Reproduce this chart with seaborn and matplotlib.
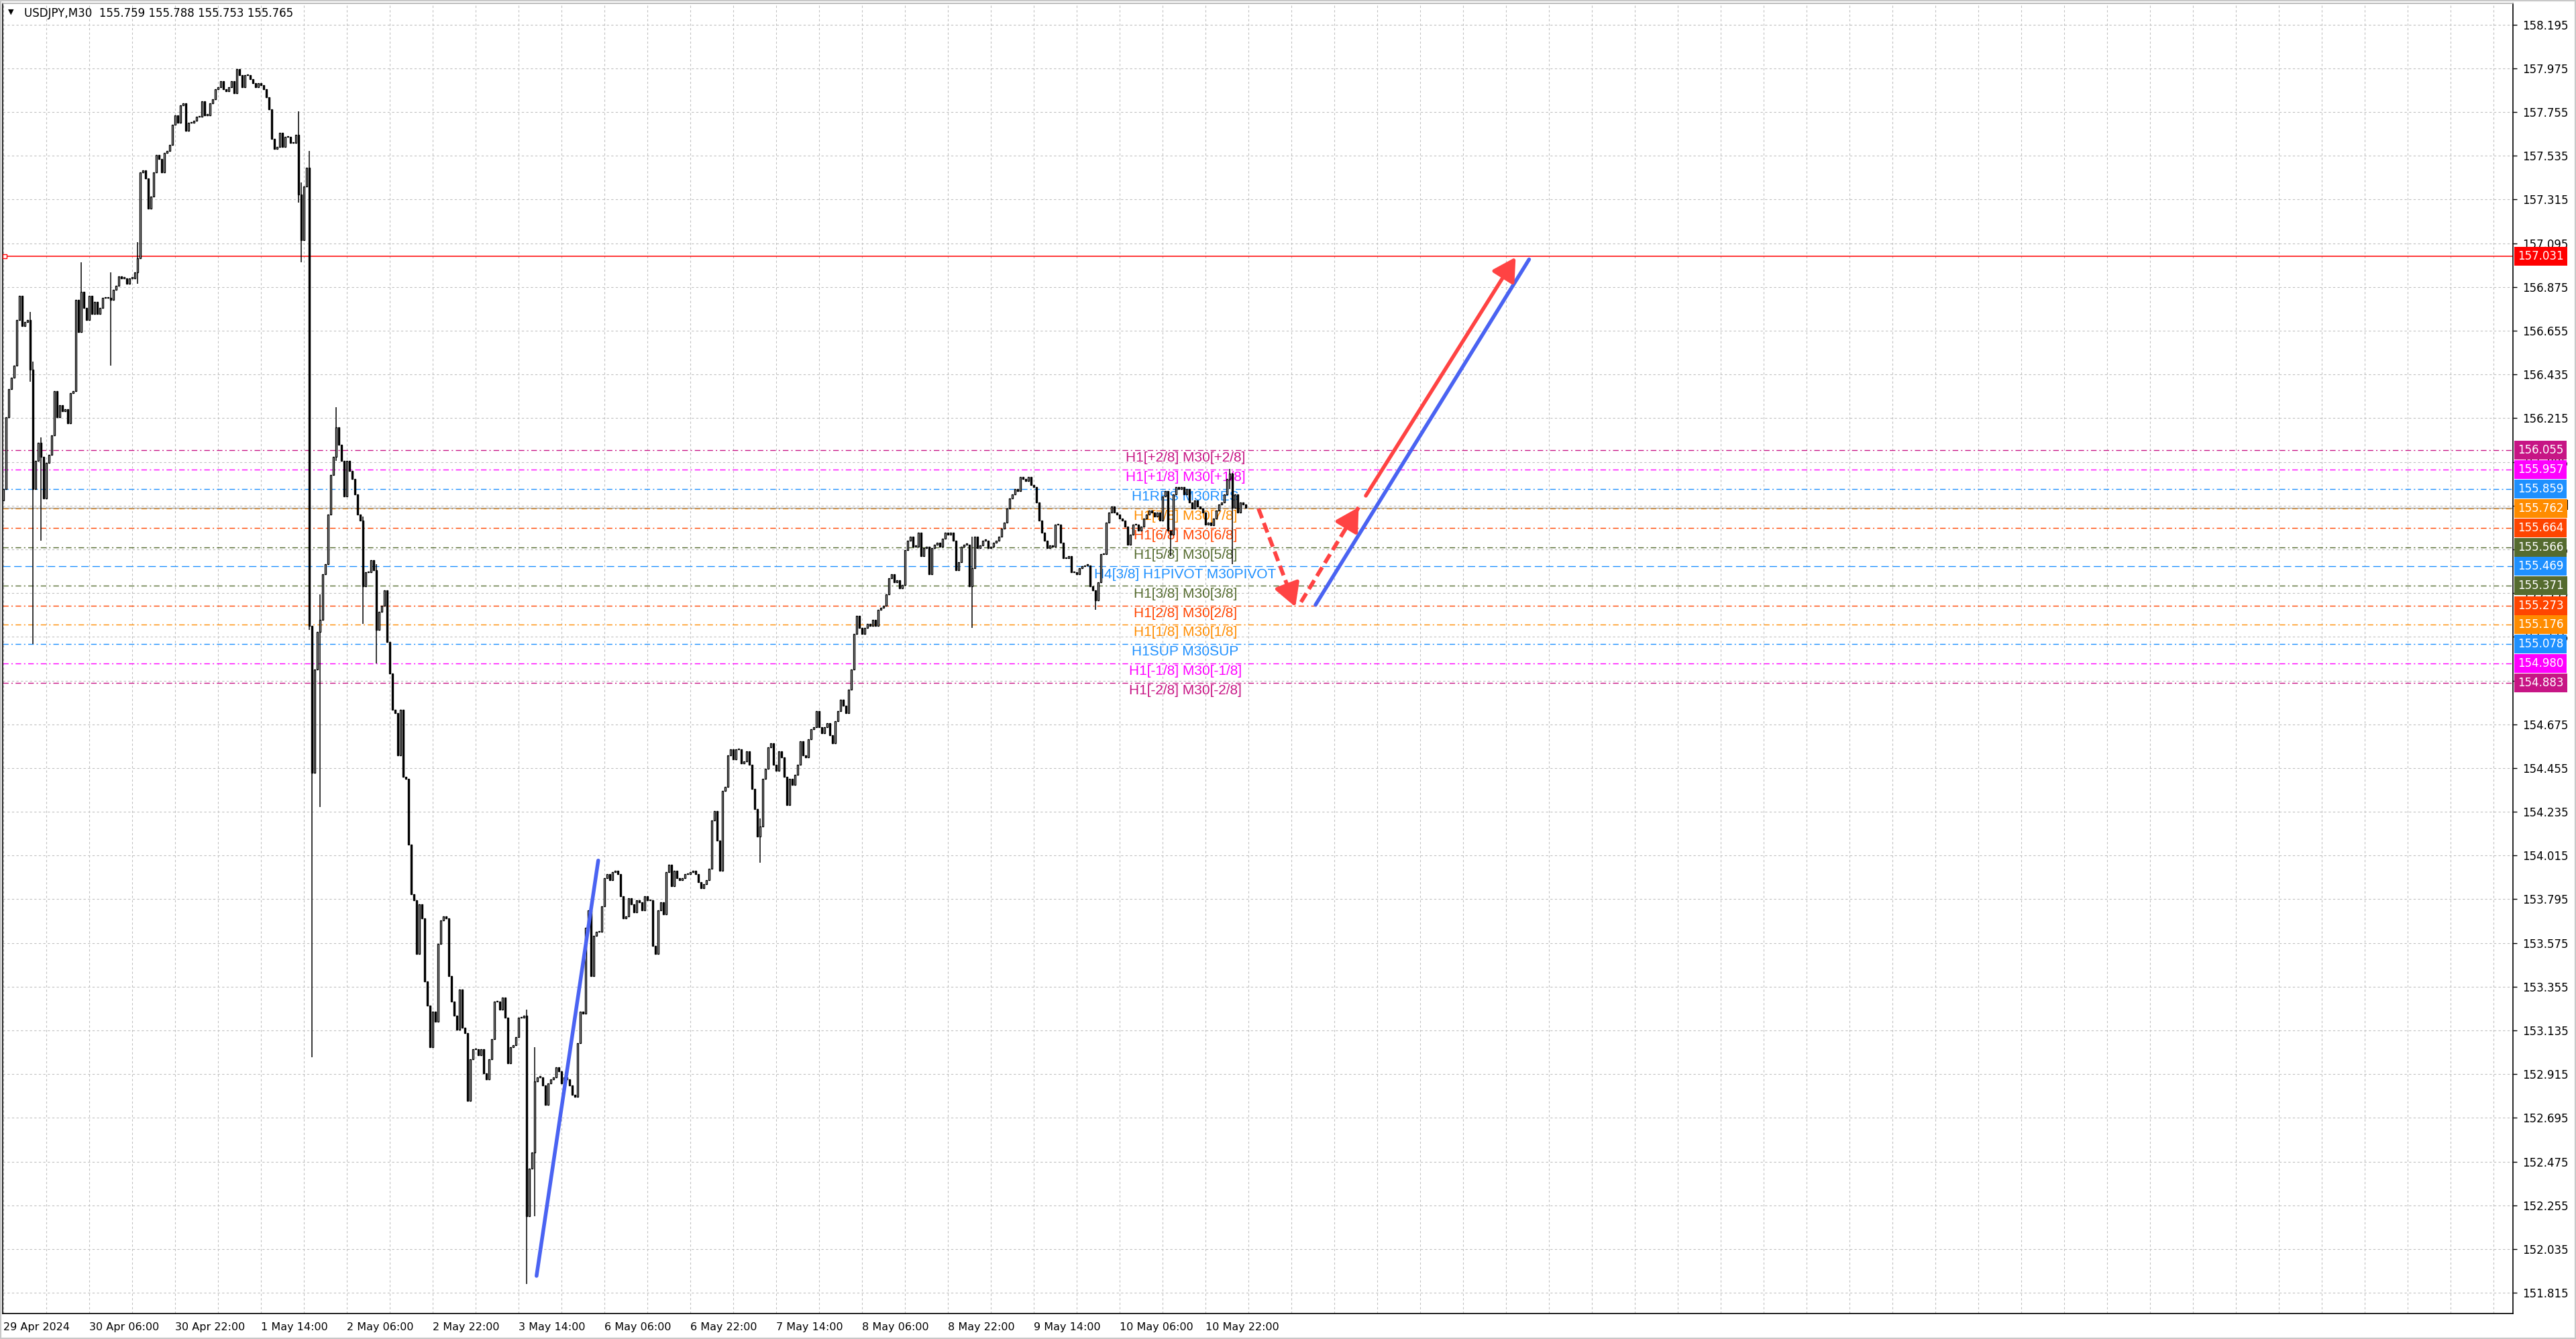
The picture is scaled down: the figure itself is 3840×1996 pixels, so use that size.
import numpy as np
import pandas as pd
import seaborn as sns
import matplotlib
matplotlib.use("Agg")
from matplotlib import pyplot as plt
from matplotlib.transforms import blended_transform_factory

# ---- data (USDJPY M30) ----
first_open = 155.80
closes = [
    155.86, 156.22, 156.36, 156.42, 156.48, 156.71, 156.83, 156.68, 156.70, 156.71,
    156.46, 155.86, 156.00, 156.09, 156.02, 155.81, 155.99, 156.03, 156.13, 156.35,
    156.22, 156.28, 156.25, 156.26, 156.19, 156.34, 156.35, 156.81, 156.65, 156.85,
    156.77, 156.71, 156.83, 156.74, 156.80, 156.74, 156.77, 156.82, 156.82, 156.82,
    156.81, 156.86, 156.88, 156.93, 156.92, 156.92, 156.89, 156.92, 156.92, 156.95,
    157.02, 157.45, 157.46, 157.42, 157.27, 157.33, 157.45, 157.54, 157.52, 157.45,
    157.55, 157.56, 157.59, 157.69, 157.74, 157.70, 157.79, 157.80, 157.66, 157.70,
    157.70, 157.71, 157.73, 157.73, 157.81, 157.74, 157.74, 157.80, 157.82, 157.87,
    157.88, 157.91, 157.87, 157.86, 157.88, 157.91, 157.85, 157.97, 157.94, 157.88,
    157.94, 157.94, 157.92, 157.90, 157.88, 157.90, 157.89, 157.87, 157.83, 157.77,
    157.62, 157.57, 157.58, 157.65, 157.58, 157.63, 157.63, 157.60, 157.60, 157.64,
    157.34, 157.11, 157.38, 157.475, 155.17, 154.43, 154.95, 155.14, 155.20, 155.43,
    155.48, 155.73, 155.93, 156.02, 156.17, 156.08, 156.00, 155.82, 156.00, 155.95,
    155.91, 155.83, 155.73, 155.70, 155.37, 155.44, 155.44, 155.50, 155.45, 155.15,
    155.24, 155.27, 155.35, 155.09, 154.93, 154.75, 154.73, 154.52, 154.75, 154.41,
    154.40, 154.07, 153.82, 153.79, 153.52, 153.77, 153.70, 153.38, 153.26, 153.05,
    153.23, 153.18, 153.57, 153.69, 153.71, 153.70, 153.41, 153.28, 153.21, 153.14,
    153.34, 153.15, 153.12, 152.78, 152.99, 153.04, 153.04, 153.01, 153.04, 152.92,
    152.89, 152.99, 153.09, 153.28, 153.28, 153.24, 153.30, 153.20, 152.97, 153.05,
    153.06, 153.10, 153.20, 153.20, 153.21, 152.20, 152.44, 152.52, 152.88, 152.90,
    152.90, 152.86, 152.76, 152.87, 152.89, 152.90, 152.95, 152.93, 152.87, 152.90,
    152.89, 152.86, 152.81, 152.80, 153.07, 153.23, 153.22, 153.65, 153.74, 153.41,
    153.61, 153.63, 153.63, 153.76, 153.90, 153.92, 153.89, 153.93, 153.94, 153.92,
    153.81, 153.70, 153.71, 153.80, 153.77, 153.73, 153.79, 153.78, 153.74, 153.81,
    153.79, 153.79, 153.56, 153.52, 153.74, 153.78, 153.72, 153.93, 153.97, 153.86,
    153.94, 153.90, 153.89, 153.90, 153.92, 153.92, 153.93, 153.94, 153.92, 153.88,
    153.85, 153.87, 153.89, 153.95, 154.19, 154.24, 154.09, 153.94, 154.34, 154.36,
    154.52, 154.55, 154.50, 154.55, 154.55, 154.48, 154.49, 154.54, 154.47, 154.35,
    154.25, 154.11, 154.16, 154.40, 154.45, 154.56, 154.58, 154.47, 154.44, 154.54,
    154.51, 154.41, 154.27, 154.40, 154.37, 154.42, 154.47, 154.59, 154.52, 154.51,
    154.60, 154.65, 154.66, 154.74, 154.66, 154.63, 154.66, 154.68, 154.62, 154.58,
    154.69, 154.74, 154.80, 154.77, 154.73, 154.85, 154.95, 155.13, 155.22, 155.16,
    155.13, 155.16, 155.18, 155.17, 155.20, 155.17, 155.25, 155.26, 155.27, 155.33,
    155.41, 155.43, 155.39, 155.40, 155.36, 155.375, 155.55, 155.60, 155.62, 155.57,
    155.57, 155.64, 155.52, 155.56, 155.57, 155.43, 155.56, 155.58, 155.59, 155.57,
    155.61, 155.64, 155.63, 155.64, 155.60, 155.45, 155.49, 155.57, 155.58, 155.58,
    155.37, 155.46, 155.62, 155.56, 155.575, 155.60, 155.60, 155.56, 155.57, 155.59,
    155.60, 155.62, 155.66, 155.69, 155.76, 155.81, 155.83, 155.86, 155.85, 155.92,
    155.91, 155.90, 155.92, 155.88, 155.87, 155.79, 155.70, 155.64, 155.60, 155.56,
    155.575, 155.57, 155.68, 155.68, 155.59, 155.51, 155.51, 155.52, 155.44, 155.44,
    155.43, 155.46, 155.47, 155.475, 155.475, 155.37, 155.35, 155.30, 155.39, 155.53,
    155.53, 155.69, 155.74, 155.77, 155.74, 155.73, 155.71, 155.70, 155.67, 155.58,
    155.63, 155.68, 155.68, 155.65, 155.67, 155.71, 155.73, 155.75, 155.74, 155.72,
    155.74, 155.70, 155.82, 155.85, 155.65, 155.63, 155.83, 155.87, 155.86, 155.87,
    155.83, 155.86, 155.79, 155.76, 155.80, 155.77, 155.76, 155.74, 155.68, 155.69,
    155.675, 155.71, 155.75, 155.78, 155.79, 155.83, 155.91, 155.935, 155.765, 155.83,
    155.74, 155.79, 155.78, 155.765,
]

# bars with visible wicks: index, high, low
wick_idx = [10, 11, 14, 29, 40, 50, 110, 111, 114, 115, 118, 124, 134, 139,
            195, 198, 282, 361, 407, 435, 457, 458]
wick_high = [156.75, 156.50, 156.12, 157.00, 156.95, 157.10, 157.76, 157.40, 157.56, 155.17,
             155.33, 156.27, 155.72, 155.48, 153.24, 153.05, 154.20, 155.62, 155.35, 155.65,
             155.96, 155.94]
wick_low = [156.40, 155.08, 155.60, 156.70, 156.48, 156.89, 157.30, 157.00, 155.15, 153.00,
            154.26, 156.00, 155.18, 154.98, 151.86, 152.20, 153.98, 155.16, 155.25, 155.52,
            155.86, 155.48]

# Murrey math levels
level_values = [156.055, 155.957, 155.859, 155.762, 155.664, 155.566, 155.469,
                155.371, 155.273, 155.176, 155.078, 154.980, 154.883]
level_labels = ["H1[+2/8] M30[+2/8]", "H1[+1/8] M30[+1/8]", "H1RES M30RES",
                "H1[7/8] M30[7/8]", "H1[6/8] M30[6/8]", "H1[5/8] M30[5/8]",
                "H4[3/8] H1PIVOT M30PIVOT", "H1[3/8] M30[3/8]", "H1[2/8] M30[2/8]",
                "H1[1/8] M30[1/8]", "H1SUP M30SUP", "H1[-1/8] M30[-1/8]",
                "H1[-2/8] M30[-2/8]"]
level_colors = ["#C71585", "#FF00FF", "#1E90FF", "#FF8C00", "#FF4500", "#556B2F",
                "#1E90FF", "#556B2F", "#FF4500", "#FF8C00", "#1E90FF", "#FF00FF",
                "#C71585"]
target_price = 157.031
bid_price = 155.765

# forecast / trend segments (bar index, price)
blue_x = [[198.7, 221.7], [489.0, 568.6]]
blue_y = [[151.90, 153.99], [155.276, 157.014]]
red_dash_x = [[467.75, 481.5], [483.6, 505.1]]
red_dash_y = [[155.76, 155.266], [155.29, 155.767]]
red_solid_x = [507.75, 563.6]
red_solid_y = [155.825, 157.025]

xtick_labels = ["29 Apr 2024", "30 Apr 06:00", "30 Apr 22:00", "1 May 14:00",
                "2 May 06:00", "2 May 22:00", "3 May 14:00", "6 May 06:00",
                "6 May 22:00", "7 May 14:00", "8 May 06:00", "8 May 22:00",
                "9 May 14:00", "10 May 06:00", "10 May 22:00"]
title_text = "USDJPY,M30  155.759 155.788 155.753 155.765"

# ---- build OHLC ----
df = pd.DataFrame({"close": closes})
df["open"] = [first_open] + closes[:-1]
df["high"] = df[["open", "close"]].max(axis=1)
df["low"] = df[["open", "close"]].min(axis=1)
for k, h, l in zip(wick_idx, wick_high, wick_low):
    df.loc[k, "high"] = max(df.loc[k, "high"], h)
    df.loc[k, "low"] = min(df.loc[k, "low"], l)
df["x"] = np.arange(len(df))

sns.set_theme(style="white")
plt.rcParams["font.family"] = ["DejaVu Sans"]

W, H, DPI = 3840, 1996, 100
fig = plt.figure(figsize=(W / DPI, H / DPI), dpi=DPI, facecolor="white")
ax = fig.add_axes([4 / W, (H - 1958) / H, (3746 - 4) / W, (1958 - 5) / H])
ax.set_facecolor("white")
ax.set_xlim(-0.25, 935.25)
ax.set_ylim(151.711, 158.302)

grid_kw = dict(color="#C0C0C0", lw=0.8, dashes=(3, 3), zorder=0.5)
yticks = np.round(151.815 + 0.22 * np.arange(30), 3)
for yt in yticks:
    ax.axhline(yt, **grid_kw)
for xv in range(0, 936, 16):
    ax.axvline(xv, **grid_kw)

# level lines and their captions
for val, lab, col in zip(level_values, level_labels, level_colors):
    dash = (8, 4) if "PIVOT" in lab else (6, 3, 1.5, 3)
    ax.axhline(val, color=col, lw=1.0, dashes=dash, zorder=1)
    ax.text(440.5, val - 0.039, lab, color=col, fontsize=15, family=["Liberation Sans"],
            ha="center", va="center", zorder=2)
ax.axhline(target_price, color="#FF0000", lw=1.1, zorder=1)
ax.axhline(bid_price, color="#A0A0A0", lw=1.0, zorder=1)

# candles
up = df["close"] >= df["open"]
body_bottom = df[["open", "close"]].min(axis=1)
body_h = (df["close"] - df["open"]).abs().clip(lower=0.004)
ax.vlines(df["x"], df["low"], df["high"], color="black", lw=1.1, zorder=2.9)
ax.bar(df["x"], body_h, bottom=body_bottom, width=0.7,
       color=np.where(up, "white", "black"), edgecolor="black", linewidth=1.0, zorder=3)

# trend lines
blue = "#4A63F2"
red = "#FF4343"
for xs, ys in zip(blue_x, blue_y):
    sns.lineplot(x=xs, y=ys, ax=ax, color=blue, lw=4.0, solid_capstyle="round", zorder=5)

head = "-|>,head_length=0.8,head_width=0.45"
for xs, ys in zip(red_dash_x, red_dash_y):
    ax.plot(xs, ys, color=red, lw=4.2, dashes=(2.6, 1.3), zorder=5)
    ax.annotate("", xy=(xs[1], ys[1]),
                xytext=(xs[1] - 0.15 * (xs[1] - xs[0]), ys[1] - 0.15 * (ys[1] - ys[0])),
                arrowprops=dict(arrowstyle=head, color=red, lw=4.0, mutation_scale=26,
                                shrinkA=0, shrinkB=0), zorder=5)
ax.annotate("", xy=(red_solid_x[1], red_solid_y[1]), xytext=(red_solid_x[0], red_solid_y[0]),
            arrowprops=dict(arrowstyle=head, color=red, lw=4.0, mutation_scale=26,
                            shrinkA=0, shrinkB=0, capstyle="round"), zorder=5)
ax.plot([0.5], [target_price], marker="s", ms=4, mfc="white", mec="#FF0000", mew=1, zorder=6)

# axes and ticks
ax.yaxis.tick_right()
ax.set_yticks(yticks)
ax.set_yticklabels([f"{v:.3f}" for v in yticks], fontsize=12, color="black")
ax.set_xticks(np.arange(len(xtick_labels)) * 32)
ax.set_xticklabels(xtick_labels, fontsize=11.5, color="black", ha="left")
ax.tick_params(axis="y", direction="out", length=4, width=1, pad=6, colors="black")
ax.tick_params(axis="x", direction="out", length=5, width=1, pad=4, colors="black")
ax.grid(False)
for s in ax.spines.values():
    s.set_color("black")
    s.set_linewidth(1.2)
ax.spines["top"].set_color("#B0B0B0")

# price boxes on the right scale
tr = blended_transform_factory(ax.transAxes, ax.transData)
# current bid marker, mostly hidden behind the 7/8 box
ax.add_patch(plt.Rectangle((1.0005, bid_price - 0.01), 0.0215, 0.05, transform=tr,
                           fc="black", ec="none", clip_on=False, zorder=19))
box_vals = [target_price] + level_values
box_cols = ["#FF0000"] + level_colors
for val, col in zip(box_vals, box_cols):
    ax.text(1.0019, val, f"{val:.3f}", transform=tr, ha="left", va="center", fontsize=12,
            color="white", clip_on=False, zorder=20,
            bbox=dict(boxstyle="square,pad=0.3", fc=col, ec="none"))

# symbol header
ax.text(8 / 3742, 1 - 13 / 1953, "\u25bc", transform=ax.transAxes, fontsize=8,
        ha="left", va="center", color="black", zorder=20)
ax.text(32 / 3742, 1 - 15 / 1953, title_text, transform=ax.transAxes, fontsize=12,
        ha="left", va="center", color="black", zorder=20)

fig.patches.append(plt.Rectangle((0, 0), 1, 1, transform=fig.transFigure, fill=False,
                                 ec="#C8C8C8", lw=3))
fig.savefig("out.png", dpi=DPI, facecolor="white")
